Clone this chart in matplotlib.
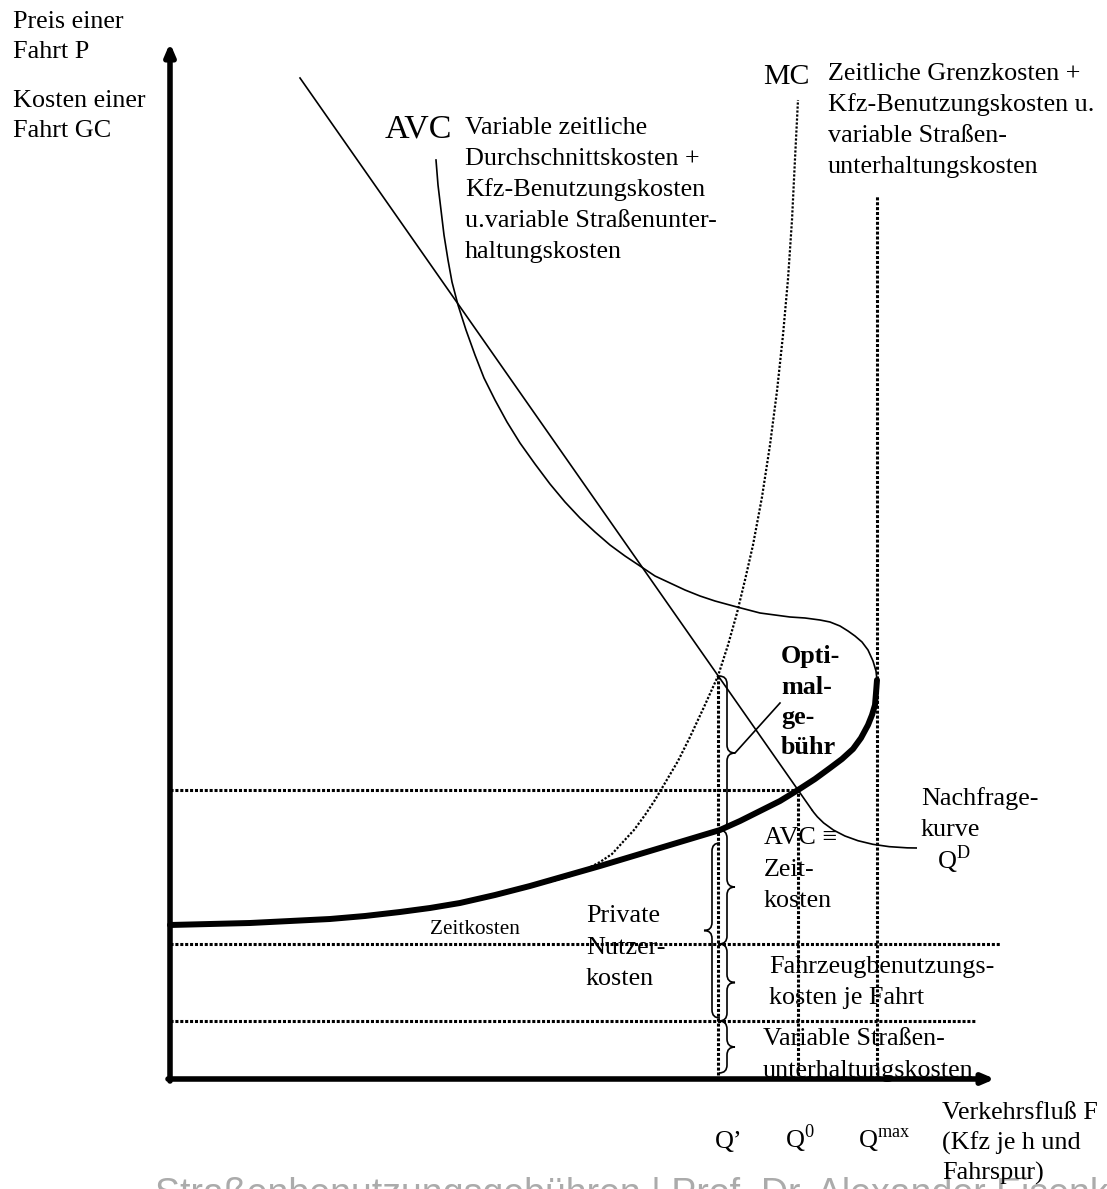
import numpy as np
import matplotlib.pyplot as plt
from matplotlib.path import Path
from matplotlib.patches import PathPatch

plt.rcParams['font.family'] = ['Liberation Serif', 'DejaVu Serif']
plt.rcParams['mathtext.fontset'] = 'custom'
plt.rcParams['mathtext.rm'] = 'Liberation Serif'

# Verkehrsfluss F (x) and Kosten je Fahrt (y), origin at the axis corner
q_prime, q_zero, q_max = 548, 628, 707
road_cost = 58        # variable Strassenunterhaltungskosten
vehicle_cost = 135    # + Fahrzeugbenutzungskosten
p_zero = 289
p_prime = 403
avc_at_q_prime = 249

# AVC, lower branch (thick)
avc_low_f = [0, 40, 80, 120, 160, 195, 230, 260, 290, 325, 360, 395, 430, 460, 490, 520,
             550, 570, 590, 610, 628, 645, 660, 672, 683, 691, 698, 702, 705, 706, 707]
avc_low_c = [154, 155, 156, 158, 160, 163, 167, 171, 176, 184, 193, 203, 213, 222, 231, 240,
             249, 258, 268, 278, 289, 300, 311, 320, 330, 341, 354, 364, 374, 386, 399]
# AVC, backward-bending upper branch (thin)
avc_up_f = [707, 706, 703, 698, 692, 685, 678, 670, 660, 650, 635, 620, 590, 567, 545, 530,
            515, 500, 485, 473, 455, 440, 425, 410, 395, 380, 365, 350, 337, 325, 314, 305,
            296, 288, 282, 278, 274, 271, 268, 266]
avc_up_c = [399, 408, 418, 429, 437, 443, 448, 453, 457, 459, 461, 462, 466, 472, 478, 483,
            489, 496, 503, 511, 523, 534, 547, 561, 577, 595, 615, 636, 657, 679, 701, 724,
            749, 774, 797, 819, 844, 869, 894, 919]
# MC (dotted)
mc_f = [360, 380, 400, 415, 430, 442, 452, 464, 475, 485, 495, 508, 520, 534, 548, 558,
        567, 575, 583, 592, 600, 607, 613, 618, 622, 625, 628]
mc_c = [193, 197, 203, 209, 217, 225, 236, 249, 264, 279, 296, 318, 342, 372, 403, 434,
        466, 499, 534, 582, 634, 688, 744, 800, 859, 920, 979]
# Nachfragekurve
demand_f = [130, 642]
demand_c = [1001, 269]

fig = plt.figure(figsize=(11.07, 11.89), dpi=100)
ax = fig.add_axes([0, 0, 1, 1])
ax.set_xlim(-170, 937)
ax.set_ylim(-110, 1079)
ax.axis('off')

BODY = 18.8


def lbl(px, py, lines, step=31, **kw):
    # text placed by pixel position of its first baseline (from top-left)
    kw.setdefault('size', BODY)
    for i, s in enumerate(lines):
        ax.text(px - 170, 1079 - py - i * step, s, va='baseline', ha='left', **kw)


def brace(x, y0, y1, d, side):
    ym = (y0 + y1) / 2
    s = side
    verts = [(x - s * d, y0), (x, y0), (x, y0 + d),
             (x, ym - d), (x, ym), (x + s * d, ym),
             (x, ym), (x, ym + d),
             (x, y1 - d), (x, y1), (x - s * d, y1)]
    codes = [Path.MOVETO, Path.CURVE3, Path.CURVE3,
             Path.LINETO, Path.CURVE3, Path.CURVE3,
             Path.CURVE3, Path.CURVE3,
             Path.LINETO, Path.CURVE3, Path.CURVE3]
    ax.add_patch(PathPatch(Path(verts, codes), fill=False, lw=1.2, color='k', zorder=4))


# footer (cut off at the bottom)
ax.text(155 - 170, 1079 - 1205,
        'Straßenbenutzungsgebühren | Prof. Dr. Alexander Eisenkopf',
        family='Liberation Sans', size=27, color='#ababab', va='baseline',
        clip_on=False, zorder=0)

# axes with arrows
arrow = dict(arrowstyle='-|>,head_length=0.7,head_width=0.3', lw=4, color='k',
             shrinkA=0, shrinkB=0)
ax.annotate('', xy=(0, 1036), xytext=(0, -2), arrowprops=arrow)
ax.annotate('', xy=(825, 0), xytext=(-2, 0), arrowprops=arrow)

# dotted helper lines
dot = dict(color='k', lw=2.2, linestyle=(0, (1, 0.6)))
ax.plot([0, q_zero], [p_zero, p_zero], **dot)
ax.plot([0, 830], [vehicle_cost, vehicle_cost], **dot)
ax.plot([0, 805], [road_cost, road_cost], **dot)
ax.plot([q_prime, q_prime], [4, p_prime], **dot)
ax.plot([q_zero, q_zero], [4, p_zero], **dot)
ax.plot([q_max, q_max], [4, 884], **dot)

# curves
ax.plot(avc_low_f, avc_low_c, color='k', lw=4.3, solid_capstyle='round',
        solid_joinstyle='round', zorder=3)
ax.plot(avc_up_f, avc_up_c, color='k', lw=1.2, solid_joinstyle='round', zorder=3)
ax.plot(mc_f, mc_c, color='k', lw=1.6, linestyle=(0, (1, 0.8)), zorder=3)
ax.plot(demand_f, demand_c, color='k', lw=1.2, zorder=3)
lead = Path([(642, 269), (668, 231), (747, 231)], [Path.MOVETO, Path.CURVE3, Path.CURVE3])
ax.add_patch(PathPatch(lead, fill=False, lw=1.2, color='k'))

# braces
brace(557, avc_at_q_prime, p_prime, 8, 1)
brace(557, vehicle_cost, avc_at_q_prime, 8, 1)
brace(557, road_cost, vehicle_cost, 8, 1)
brace(557, 6, road_cost, 8, 1)
brace(542, 61, 236, 8, -1)
ax.plot([565, 610], [326, 376], color='k', lw=1.2)

# labels
lbl(13, 28, ['Preis einer', 'Fahrt P'], step=30)
lbl(13, 107, ['Kosten einer', 'Fahrt GC'], step=30)
lbl(385, 137, ['AVC'], size=24.5)
lbl(465, 134, ['Variable zeitliche', 'Durchschnittskosten +', 'Kfz-Benutzungskosten',
               'u.variable Straßenunter-', 'haltungskosten'])
lbl(763, 84, ['MC'], size=21.5)
lbl(828, 80, ['Zeitliche Grenzkosten +', 'Kfz-Benutzungskosten u.', 'variable Straßen-',
              'unterhaltungskosten'])
lbl(781, 663, ['Opti-', 'mal-', 'ge-', 'bühr'], step=30.5, weight='bold')
lbl(921, 805, ['Nachfrage-', 'kurve'], step=31)
lbl(937, 869, [r'Q$^{\mathrm{D}}$'])
lbl(764, 844, ['AVC ≡', 'Zeit-', 'kosten'], step=31.5)
lbl(430, 934, ['Zeitkosten'], size=15.3)
lbl(586, 922, ['Private', 'Nutzer-', 'kosten'], step=31.5)
lbl(769, 973, ['Fahrzeugbenutzungs-', 'kosten je Fahrt'])
lbl(763, 1045, ['Variable Straßen-', 'unterhaltungskosten'], step=32)
lbl(715, 1148, ['Q’'])
lbl(785, 1148, [r'Q$^{\mathrm{0}}$'])
lbl(858, 1148, [r'Q$^{\mathrm{max}}$'])
lbl(942, 1119, ['Verkehrsfluß F', '(Kfz je h und', 'Fahrspur)'], step=30.5)

fig.savefig('out.png', dpi=100)
